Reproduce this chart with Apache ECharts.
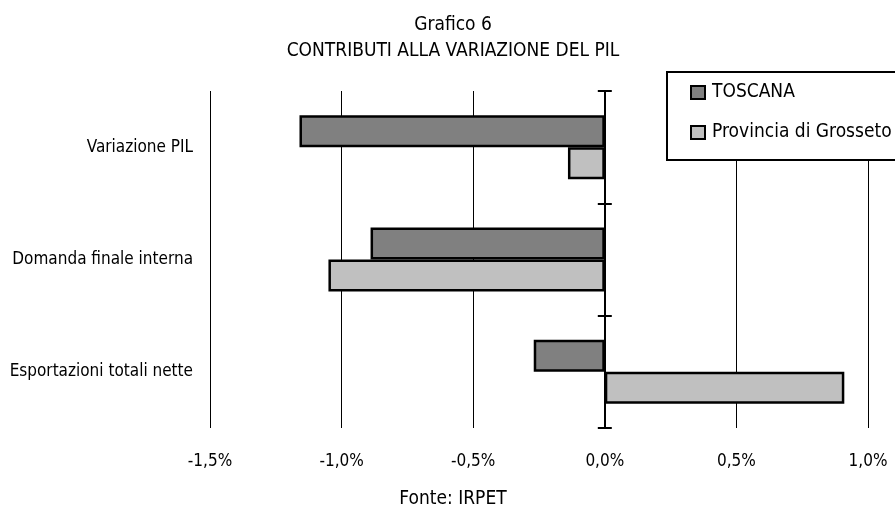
<!DOCTYPE html>
<html>
<head>
<meta charset="utf-8">
<style>
  html, body { margin: 0; padding: 0; background: #fff; }
  #chart { width: 895px; height: 509px; }
</style>
<script src="https://cdn.jsdelivr.net/npm/echarts@6/dist/echarts.min.js"></script>
</head>
<body>
<div id="chart"></div>
<script>
// Contributions to GDP change (percentage points)
const categories = ['Variazione PIL', 'Domanda finale interna', 'Esportazioni totali nette'];
const seriesNames = ['TOSCANA', 'Provincia di Grosseto'];
const toscana = [-1.16, -0.89, -0.27];
const grosseto = [-0.14, -1.05, 0.91];
const xTicks = { min: -1.5, max: 1.0, step: 0.5 };

const FONT = '"Liberation Sans Narrow", "Arial Narrow", "DejaVu Sans Condensed", sans-serif';
const fmtPct = v => v.toFixed(1).replace('.', ',') + '%';

const W = 895, H = 509;
const GRID = { left: 210, right: 27, top: 91, bottom: 81 };
// pixel distance from the plot's left edge to the zero line
const zeroOffset = (0 - xTicks.min) / (xTicks.max - xTicks.min) * (W - GRID.left - GRID.right);

const chart = echarts.init(document.getElementById('chart'), null, { renderer: 'canvas' });

const barStyle = color => ({ color: color, borderColor: '#000', borderWidth: 2.5 });

chart.setOption({
  animation: false,
  backgroundColor: '#fff',
  textStyle: { fontFamily: FONT, color: '#000' },
  title: [
    {
      text: 'Grafico 6\nCONTRIBUTI ALLA VARIAZIONE DEL PIL',
      left: 453,
      top: 12,
      padding: 0,
      textAlign: 'center',
      textStyle: { fontFamily: FONT, fontSize: 19, fontWeight: 'normal', color: '#000', lineHeight: 26, align: 'center' }
    },
    {
      text: 'Fonte: IRPET',
      left: 453,
      top: 490,
      padding: 0,
      textAlign: 'center',
      textStyle: { fontFamily: FONT, fontSize: 19, fontWeight: 'normal', color: '#000' }
    }
  ],
  legend: {
    orient: 'vertical',
    left: 667,
    top: 72,
    data: seriesNames,
    icon: 'rect',
    itemWidth: 14,
    itemHeight: 13,
    itemGap: 21,
    padding: [11, 60, 18, 23],
    backgroundColor: '#fff',
    borderColor: '#000',
    borderWidth: 2,
    textStyle: { fontFamily: FONT, fontSize: 19, color: '#000', padding: [0, 0, 0, 2] }
  },
  grid: {
    left: GRID.left, right: GRID.right, top: GRID.top, bottom: GRID.bottom,
    containLabel: false,
    outerBoundsMode: 'none'
  },
  xAxis: {
    type: 'value',
    min: xTicks.min,
    max: xTicks.max,
    interval: xTicks.step,
    axisLine: { show: false },
    axisTick: { show: false },
    splitLine: { show: true, lineStyle: { color: '#000', width: 1 } },
    axisLabel: { formatter: fmtPct, fontFamily: FONT, fontSize: 17, color: '#000', margin: 25 }
  },
  yAxis: [
    {
      // category labels along the left edge
      type: 'category',
      data: categories,
      inverse: true,
      position: 'left',
      axisLine: { show: false, onZero: false },
      axisTick: { show: false },
      splitLine: { show: false },
      axisLabel: { fontFamily: FONT, fontSize: 17, color: '#000', margin: 17 }
    },
    {
      // zero line with outward ticks
      type: 'category',
      data: categories,
      inverse: true,
      position: 'left',
      axisLine: { show: true, onZero: true, lineStyle: { color: '#000', width: 2 } },
      axisTick: { show: true, inside: false, length: 7, lineStyle: { color: '#000', width: 2 } },
      axisLabel: { show: false },
      splitLine: { show: false }
    },
    {
      // inward ticks on the zero line
      type: 'category',
      data: categories,
      inverse: true,
      position: 'left',
      offset: -zeroOffset,
      axisLine: { show: false, onZero: false },
      axisTick: { show: true, inside: true, length: 7, lineStyle: { color: '#000', width: 2 } },
      axisLabel: { show: false },
      splitLine: { show: false }
    }
  ],
  series: [
    {
      name: seriesNames[0],
      type: 'bar',
      yAxisIndex: 0,
      data: toscana,
      barWidth: 32,
      barGap: '0%',
      itemStyle: barStyle('#808080')
    },
    {
      name: seriesNames[1],
      type: 'bar',
      yAxisIndex: 0,
      data: grosseto,
      barWidth: 32,
      barGap: '0%',
      itemStyle: barStyle('#c0c0c0')
    }
  ]
});
</script>
</body>
</html>
